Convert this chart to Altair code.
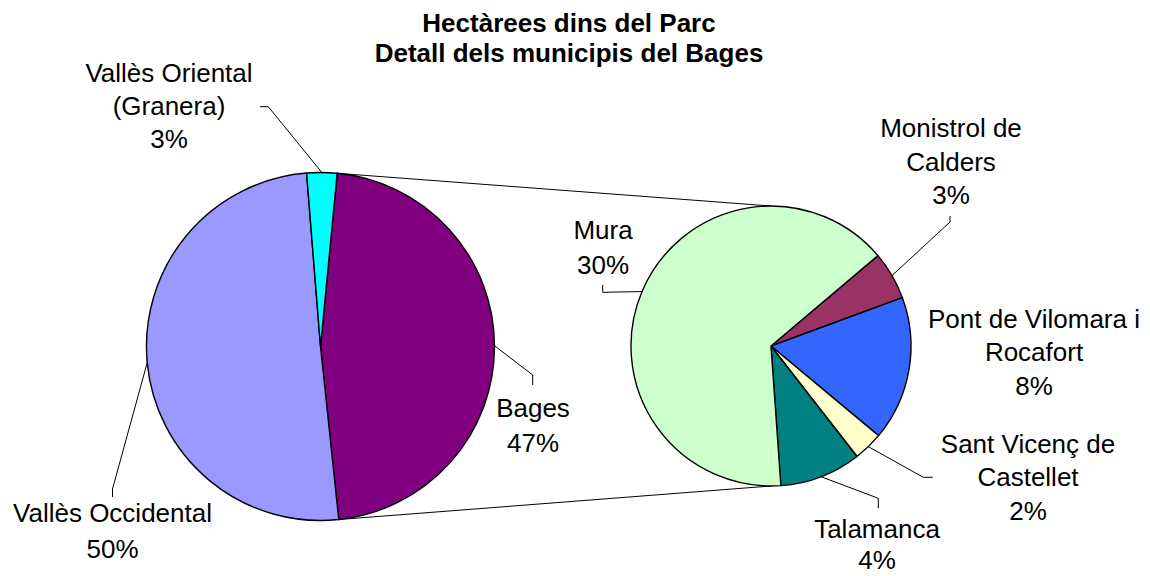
import math
import altair as alt
import pandas as pd

# ---------------- data ----------------
title_lines = ["Hectàrees dins del Parc", "Detall dels municipis del Bages"]

# main pie (clockwise order)
main_names = ["Bages", "Vallès Occidental", "Vallès Oriental (Granera)"]
main_values = [46.8, 50.4, 2.8]
main_colors = ["#800080", "#9999FF", "#00FFFF"]
main_label_lines = [["Bages"], ["Vallès Occidental"], ["Vallès Oriental", "(Granera)"]]

# detail pie of Bages (clockwise order)
detail_names = ["Monistrol de Calders", "Pont de Vilomara i Rocafort",
                "Sant Vicenç de Castellet", "Talamanca", "Mura"]
detail_values = [2.6, 7.8, 1.6, 4.4, 30.4]
detail_colors = ["#993366", "#3366FF", "#FFFFCC", "#008080", "#CCFFCC"]
detail_label_lines = [["Monistrol de", "Calders"], ["Pont de Vilomara i", "Rocafort"],
                      ["Sant Vicenç de", "Castellet"], ["Talamanca"], ["Mura"]]

# ---------------- layout ----------------
W, H = 1134, 568
XS = alt.Scale(domain=[8, 8 + W], nice=False, zero=False)
YS = alt.Scale(domain=[8 + H, 8], nice=False, zero=False)
FONT = "Liberation Sans"

LEFT = dict(cx=320.5, cy=346.5, r=174, start=5.5)
RIGHT = dict(cx=771, cy=346, r=140, start=49.8)

# label anchor: (center x, first baseline, line spacing)
main_label_pos = [(533, 416.7, 35), (112.5, 521.7, 36.5), (169, 82.3, 33)]
detail_label_pos = [(951, 137.3, 33.4), (1034, 328, 33.4), (1028, 452.7, 33.7),
                    (877, 537.5, 31.5), (603, 239.3, 34.7)]
# leader lines: list of points after the slice edge point (None = no leader)
main_leaders = [[(532.7, 375), (532.7, 385)], [(112.5, 489), (112.5, 497)],
                [(268.3, 106.7), (260, 106.7)]]
detail_leaders = [[(950, 222), (950, 216)], None, [(923.3, 477.3), (932.7, 477.3)],
                  [(878.3, 498.3), (878.3, 508.3)], [(602.7, 292.3), (602.7, 285)]]


def edge(pie, ang):
    a = math.radians(ang)
    return pie["cx"] + pie["r"] * math.sin(a), pie["cy"] - pie["r"] * math.cos(a)


def slice_angles(pie, values):
    tot = sum(values)
    out, a = [], pie["start"]
    for v in values:
        span = v / tot * 360
        out.append((a, a + span))
        a += span
    return out


def pct(v):
    return f"{round(v):.0f}%"


pie_rows, text_rows, line_rows = [], [], []
lid = 0
for pie_id, pie, names, values, colors, lbls, pos, leaders in [
    ("main", LEFT, main_names, main_values, main_colors, main_label_lines, main_label_pos, main_leaders),
    ("detail", RIGHT, detail_names, detail_values, detail_colors, detail_label_lines, detail_label_pos, detail_leaders),
]:
    angs = slice_angles(pie, values)
    for k, (n, v, c, lb, p, ld, (a0, a1)) in enumerate(zip(names, values, colors, lbls, pos, leaders, angs)):
        pie_rows.append(dict(pie=pie_id, name=n, value=v, color=c, k=k))
        lines = lb + [pct(v)]
        for j, t in enumerate(lines):
            text_rows.append(dict(x=p[0], y=p[1] + j * p[2], text=t, weight="normal"))
        if ld:
            pts = [edge(pie, (a0 + a1) / 2)] + ld
            for q, (x, y) in enumerate(pts):
                line_rows.append(dict(id=f"l{lid}", k=q, x=x, y=y, w=1))
            lid += 1
    if pie_id == "main":
        bages_a0, bages_a1 = angs[0]

# connector lines between the pies
p_top = edge(LEFT, bages_a0)
p_bot = edge(LEFT, bages_a1)
r_top = edge(RIGHT, 0)
r_bot = edge(RIGHT, 180)
for i, (a, b) in enumerate([(p_top, r_top), (p_bot, r_bot)]):
    for q, (x, y) in enumerate([a, b]):
        line_rows.append(dict(id=f"c{i}", k=q, x=x, y=y, w=1))

for j, t in enumerate(title_lines):
    text_rows.append(dict(x=569, y=31.7 + j * 30, text=t, weight="bold"))

pies = pd.DataFrame(pie_rows)
texts = pd.DataFrame(text_rows)
lines_df = pd.DataFrame(line_rows)


def pie_layer(pie_id, pie):
    s = math.radians(pie["start"])
    return alt.Chart(pies).transform_filter(alt.datum.pie == pie_id).mark_arc(
        radius=pie["r"], stroke="black", strokeWidth=1.4
    ).encode(
        theta=alt.Theta("value:Q", stack=True, scale=alt.Scale(range=[s, s + 2 * math.pi])),
        order=alt.Order("k:Q"),
        color=alt.Color("color:N", scale=None),
        x=alt.XDatum(pie["cx"], type="quantitative", scale=XS, axis=None),
        y=alt.YDatum(pie["cy"], type="quantitative", scale=YS, axis=None),
    )


left = pie_layer("main", LEFT)
right = pie_layer("detail", RIGHT)

leaders = alt.Chart(lines_df).mark_line(color="black", strokeWidth=1).encode(
    x=alt.X("x:Q", scale=XS, axis=None),
    y=alt.Y("y:Q", scale=YS, axis=None),
    detail="id:N",
    order="k:Q",
)

normal = alt.Chart(texts).transform_filter(alt.datum.weight == "normal").mark_text(
    font=FONT, fontSize=26, align="center", baseline="alphabetic", color="black"
).encode(
    x=alt.X("x:Q", scale=XS, axis=None),
    y=alt.Y("y:Q", scale=YS, axis=None),
    text="text:N",
)
bold = alt.Chart(texts).transform_filter(alt.datum.weight == "bold").mark_text(
    font=FONT, fontSize=26, fontWeight="bold", align="center", baseline="alphabetic", color="black"
).encode(
    x=alt.X("x:Q", scale=XS, axis=None),
    y=alt.Y("y:Q", scale=YS, axis=None),
    text="text:N",
)

chart = alt.layer(leaders, left, right, normal, bold).resolve_scale(
    theta="independent"
).properties(
    width=W, height=H, padding=0, autosize=alt.AutoSizeParams(type="none"), background="white"
).configure_view(stroke=None)

chart.save("out.html", embed_options={"renderer": "svg", "actions": False})
